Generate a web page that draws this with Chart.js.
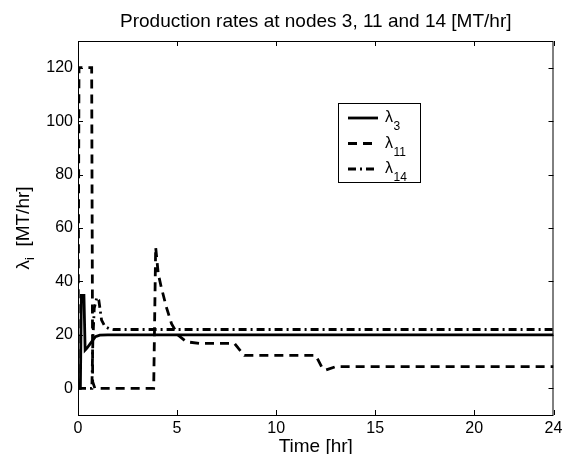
<!DOCTYPE html>
<html>
<head>
<meta charset="utf-8">
<script src="https://cdn.jsdelivr.net/npm/chart.js@4"></script>
<style>
  html, body { margin: 0; padding: 0; background: #fff; }
  canvas { display: block; }
</style>
</head>
<body>
<canvas id="rates" width="563" height="454"></canvas>
<script>
// values
const t3 = [0, 0.12, 0.17, 0.3, 0.36, 0.45, 0.63, 0.88, 1.1, 1.5, 24];
const lambda3 = [0, 0, 34.8, 34.8, 14.3, 15, 16.8, 19.3, 19.9, 20, 20];

const t11 = [0, 0.05, 0.69, 0.74, 0.85, 3.82, 3.92, 4.05, 4.2, 4.46, 4.72, 5.05, 5.47, 6.15, 7.9, 8.1, 8.4, 12.0, 12.3, 12.5, 13.0, 24];
const lambda11 = [0, 120, 120, 2.5, 0, 0, 52.8, 42.9, 37.9, 30.4, 24.2, 19.9, 17.4, 16.8, 16.8, 14.9, 12.3, 12.3, 8, 6.8, 8.1, 8.1];

const t14 = [0, 0.7, 0.75, 0.82, 0.95, 1.05, 1.19, 1.35, 1.55, 1.8, 24];
const lambda14 = [0, 0, 18, 30, 34, 33, 25.5, 23.2, 22.4, 22, 22];

const xTicks = [0, 5, 10, 15, 20, 24];
const yTicks = [0, 20, 40, 60, 80, 100, 120];

const seriesNames = ['3', '11', '14'];
const seriesDash = [[], [9, 6], [8, 4, 2, 4]];

const FONT = '"Liberation Sans", Arial, Helvetica, sans-serif';

function zip(t, v) {
    return t.map((x, i) => ({ x: x, y: v[i] }));
}

const matlabFrame = {
    id: 'matlabFrame',
    afterDraw(chart) {
        const ctx = chart.ctx;
        const a = chart.chartArea;
        const xs = chart.scales.x, ys = chart.scales.y;
        ctx.save();

        // box + inward ticks
        ctx.strokeStyle = '#000';
        ctx.lineWidth = 1;
        ctx.strokeRect(a.left + 0.5, a.top + 0.5, a.right - a.left - 1, a.bottom - a.top);
        ctx.beginPath();
        xTicks.forEach(v => {
            const px = Math.round(xs.getPixelForValue(v)) + 0.5;
            ctx.moveTo(px, a.bottom); ctx.lineTo(px, a.bottom - 5);
            ctx.moveTo(px, a.top); ctx.lineTo(px, a.top + 5);
        });
        yTicks.forEach(v => {
            const py = Math.round(ys.getPixelForValue(v)) + 0.5;
            ctx.moveTo(a.left, py); ctx.lineTo(a.left + 5, py);
            ctx.moveTo(a.right, py); ctx.lineTo(a.right - 5, py);
        });
        ctx.stroke();

        ctx.fillStyle = '#000';
        // title
        ctx.font = '19px ' + FONT;
        ctx.textAlign = 'center';
        ctx.textBaseline = 'alphabetic';
        ctx.fillText('Production rates at nodes 3, 11 and 14 [MT/hr]', (a.left + a.right) / 2, 27);
        // x label
        ctx.fillText('Time [hr]', (a.left + a.right) / 2, 452);

        // y label, rotated, with subscript i
        ctx.save();
        ctx.translate(29, (a.top + a.bottom) / 2);
        ctx.rotate(-Math.PI / 2);
        ctx.textAlign = 'left';
        ctx.font = '19px ' + FONT;
        const wl = ctx.measureText('\u03bb').width;
        const rest = '  [MT/hr]';
        const wr = ctx.measureText(rest).width;
        ctx.font = '13px ' + FONT;
        const wi = ctx.measureText('i').width;
        let x0 = -(wl + wi + wr) / 2;
        ctx.font = '19px ' + FONT;
        ctx.fillText('\u03bb', x0, 0);
        ctx.font = '13px ' + FONT;
        ctx.fillText('i', x0 + wl, 5);
        ctx.font = '19px ' + FONT;
        ctx.fillText(rest, x0 + wl + wi, 0);
        ctx.restore();

        // legend
        const lx = 338.5, ly = 103.5, lw = 82, lh = 79;
        ctx.fillStyle = '#fff';
        ctx.fillRect(lx, ly, lw, lh);
        ctx.strokeStyle = '#000';
        ctx.lineWidth = 1;
        ctx.strokeRect(lx, ly, lw, lh);
        const rows = [118, 143.5, 169];
        chart.data.datasets.forEach((ds, i) => {
            const y = rows[i];
            ctx.beginPath();
            ctx.setLineDash(ds.borderDash || []);
            ctx.lineWidth = ds.borderWidth;
            ctx.strokeStyle = ds.borderColor;
            ctx.moveTo(348, y);
            ctx.lineTo(378, y);
            ctx.stroke();
            ctx.setLineDash([]);
            ctx.fillStyle = '#000';
            ctx.textAlign = 'left';
            ctx.font = '16px ' + FONT;
            ctx.fillText('\u03bb', 385, y + 4);
            const w = ctx.measureText('\u03bb').width;
            ctx.font = '12px ' + FONT;
            ctx.fillText(seriesNames[i], 385 + w + 0.5, y + 12);
        });
        ctx.restore();
    }
};

const ctx = document.getElementById('rates').getContext('2d');
new Chart(ctx, {
    type: 'line',
    data: {
        datasets: [
            { label: '\u03bb3', data: zip(t3, lambda3), borderColor: '#000', borderWidth: 2.8, borderDash: seriesDash[0] },
            { label: '\u03bb11', data: zip(t11, lambda11), borderColor: '#000', borderWidth: 2.8, borderDash: seriesDash[1] },
            { label: '\u03bb14', data: zip(t14, lambda14), borderColor: '#000', borderWidth: 2.8, borderDash: seriesDash[2] }
        ]
    },
    options: {
        responsive: false,
        animation: false,
        devicePixelRatio: 1,
        elements: { point: { radius: 0 }, line: { tension: 0, fill: false } },
        layout: { padding: { top: 41, right: 9.5, left: 0, bottom: 0 } },
        plugins: { legend: { display: false }, title: { display: false }, tooltip: { enabled: false } },
        scales: {
            x: {
                type: 'linear', min: 0, max: 24,
                afterBuildTicks: s => { s.ticks = xTicks.map(v => ({ value: v })); },
                afterFit: s => { s.height = 39; s.paddingLeft = 0; s.paddingRight = 0; },
                grid: { display: false, drawTicks: false },
                border: { display: false },
                ticks: { color: '#000', font: { family: FONT, size: 16 }, padding: 4, maxRotation: 0 }
            },
            y: {
                type: 'linear', min: -10, max: 130,
                afterBuildTicks: s => { s.ticks = yTicks.map(v => ({ value: v })); },
                afterFit: s => { s.width = 78; },
                grid: { display: false, drawTicks: false },
                border: { display: false },
                ticks: { color: '#000', font: { family: FONT, size: 16 }, padding: 5 }
            }
        }
    },
    plugins: [matlabFrame]
});
</script>
</body>
</html>
